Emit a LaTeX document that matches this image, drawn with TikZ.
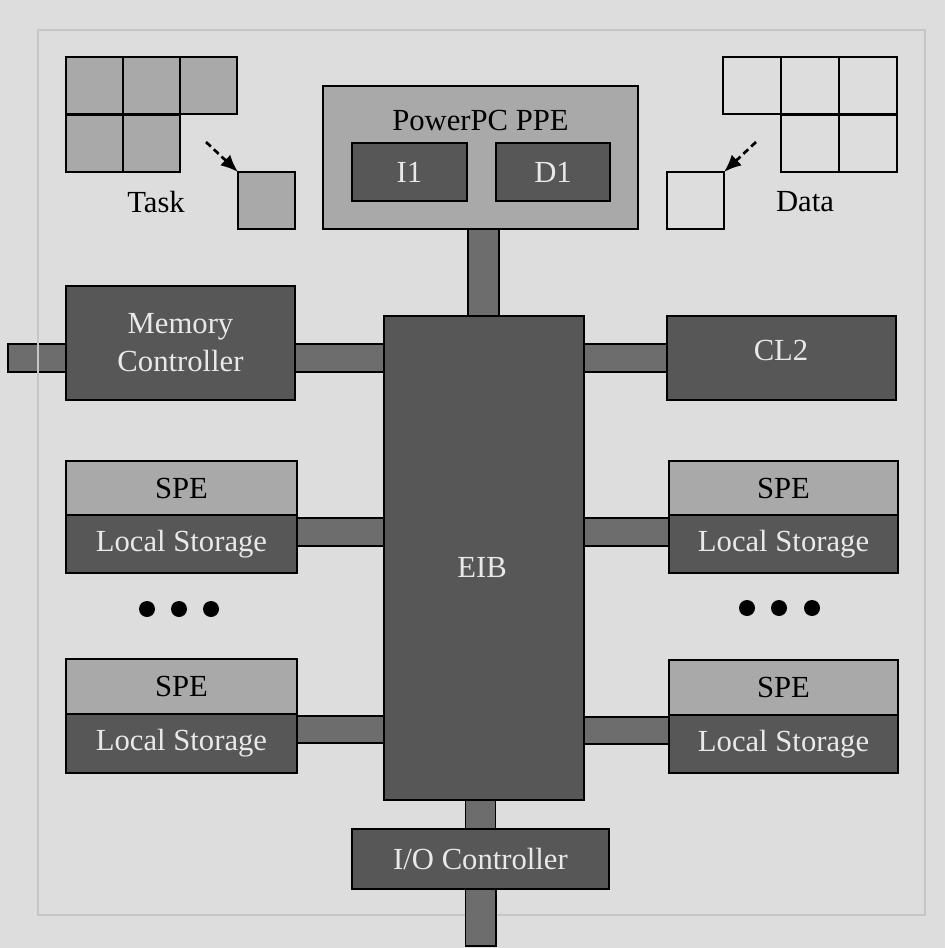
\documentclass[tikz,border=0pt]{standalone}
\usepackage{fontspec}
\setmainfont{Liberation Serif}
\usetikzlibrary{calc,arrows.meta}
\definecolor{bgc}{HTML}{DDDDDD}
\definecolor{framec}{HTML}{C6C6C6}
\definecolor{darkc}{HTML}{575757}
\definecolor{lightc}{HTML}{A9A9A9}
\definecolor{connc}{HTML}{6D6D6D}
\definecolor{txtc}{HTML}{E9E9E9}
\pgfdeclarelayer{bg}
\pgfdeclarelayer{under}
\pgfsetlayers{bg,under,main}
\begin{document}
\begin{tikzpicture}[x=0.75pt,y=-0.75pt,
  font=\fontsize{23}{28.5}\selectfont,
  sz/.style 2 args={minimum width=#1*0.75pt, minimum height=#2*0.75pt},
  box/.style={draw=black, line width=1.4pt, inner sep=0pt, outer sep=0pt},
  darkbox/.style={box, fill=darkc, text=txtc, align=center},
  lightbox/.style={box, fill=lightc, text=black, align=center},
  cellbox/.style={draw=black, line width=1.5pt, fill=lightc},
  dcellbox/.style={draw=black, line width=1.5pt},
  connbox/.style={draw=black, line width=1.4pt, fill=connc},
  lbl/.style={inner sep=0pt},
  dotn/.style={circle, fill=black, minimum size=12pt, inner sep=0pt},
  dasharrow/.style={draw=black, line width=2pt, dash pattern=on 5pt off 3pt,
    -{Latex[length=13pt,width=11pt]}}]
\useasboundingbox (0,0) rectangle (945,948);
\begin{pgfonlayer}{bg}
\fill[bgc] (0,0) rectangle (945,948);
\end{pgfonlayer}

% ---- task grid
\foreach \x/\y in {66/57,123/57,180/57,66/115,123/115}
  \draw[cellbox] (\x,\y) rectangle ++(57.3,57.5);
\node[cellbox, inner sep=0pt, outer sep=0pt, sz={57}{57}] (tsq) at (266.5,200.5) {};
\coordinate (tarr) at (206,142);
\draw[dasharrow] (tarr) -- (tsq.north west);
\node[lbl] (task) at (156,202) {Task};

% ---- data grid
\foreach \x/\y in {723/57,781/57,839/57,781/115,839/115}
  \draw[dcellbox] (\x,\y) rectangle ++(57.7,57.5);
\node[dcellbox, inner sep=0pt, outer sep=0pt, sz={57}{57}] (dsq) at (695.5,200.5) {};
\coordinate (darr) at (756,142);
\draw[dasharrow] (darr) -- (dsq.north east);
\node[lbl] (data) at (805,202) {Data};

% ---- PPE
\node[lightbox, sz={315}{143}] (ppe) at (480.5,157.5) {};
\node[lbl] (ppet) at (480.5,121) {PowerPC PPE};
\node[darkbox, sz={115}{58}] (i1) at (409.5,172) {I1};
\node[darkbox, sz={114}{58}] (d1) at (553,172) {D1};

% ---- EIB
\node[darkbox, sz={200}{484}] (eib) at (484,558) {};
\node[lbl, text=txtc] (eibt) at (482,568) {EIB};

% ---- memory controller, CL2
\node[darkbox, sz={229}{114}] (mc) at (180.5,343) {Memory\\Controller};
\node[darkbox, sz={229}{84}] (cl2) at (781.5,358) {};
\node[lbl, text=txtc] (cl2t) at (781,350) {CL2};
\coordinate (mcin) at (8,358);

% ---- SPEs
\node[lightbox, sz={231}{54}] (spel1) at (181.5,488) {SPE};
\node[darkbox, sz={231}{58}] (lsl1) at (181.5,544) {Local Storage};
\node[lightbox, sz={231}{55}] (spel2) at (181.5,686.5) {SPE};
\node[darkbox, sz={231}{59}] (lsl2) at (181.5,743.5) {Local Storage};
\node[lightbox, sz={229}{54}] (sper1) at (783.5,488) {SPE};
\node[darkbox, sz={229}{58}] (lsr1) at (783.5,544) {Local Storage};
\node[lightbox, sz={229}{55}] (sper2) at (783.5,687.5) {SPE};
\node[darkbox, sz={229}{58}] (lsr2) at (783.5,744) {Local Storage};

\node[dotn] (dl1) at (147,609) {};
\node[dotn] (dl2) at (179,609) {};
\node[dotn] (dl3) at (211,609) {};
\node[dotn] (dr1) at (747,608) {};
\node[dotn] (dr2) at (779,608) {};
\node[dotn] (dr3) at (812,608) {};

% ---- I/O controller
\node[darkbox, sz={257}{60}] (io) at (480.5,859) {I/O Controller};
\coordinate (ioout) at (481,946);

% ---- connectors and frame (under the boxes)
\begin{pgfonlayer}{under}
  \path[connbox] ($(mcin)+(0,-14)$) rectangle ($(mc.center |- mcin)+(0,14)$);
  \draw[framec, line width=1.5pt] (38,30) rectangle (925,915);
  \path[connbox] ($(mc.center |- cl2.center)+(0,-14)$) rectangle ($(eib.center |- cl2.center)+(0,14)$);
  \path[connbox] ($(eib.center |- cl2.center)+(0,-14)$) rectangle ($(cl2.center)+(0,14)$);
  \path[connbox] ($(ppe.center -| eib.center)+(-16,0)$) rectangle ($(eib.center)+(15,0)$);
  \path[connbox] ($(lsl1.north)+(0,3)$) rectangle ($(eib.north |- lsl1.north)+(0,31)$);
  \path[connbox] ($(lsl2.north)+(0,2)$) rectangle ($(eib.north |- lsl2.north)+(0,29)$);
  \path[connbox] ($(lsr1.north)+(0,3)$) rectangle ($(eib.north |- lsr1.north)+(0,31)$);
  \path[connbox] ($(lsr2.north)+(0,2)$) rectangle ($(eib.north |- lsr2.north)+(0,29)$);
  \path[connbox] ($(eib.center -| io.center)+(-15,0)$) rectangle ($(io.center)+(15,0)$);
  \path[connbox] ($(io.center)+(-15,0)$) rectangle ($(ioout)+(15,0)$);
\end{pgfonlayer}
\end{tikzpicture}
\end{document}
